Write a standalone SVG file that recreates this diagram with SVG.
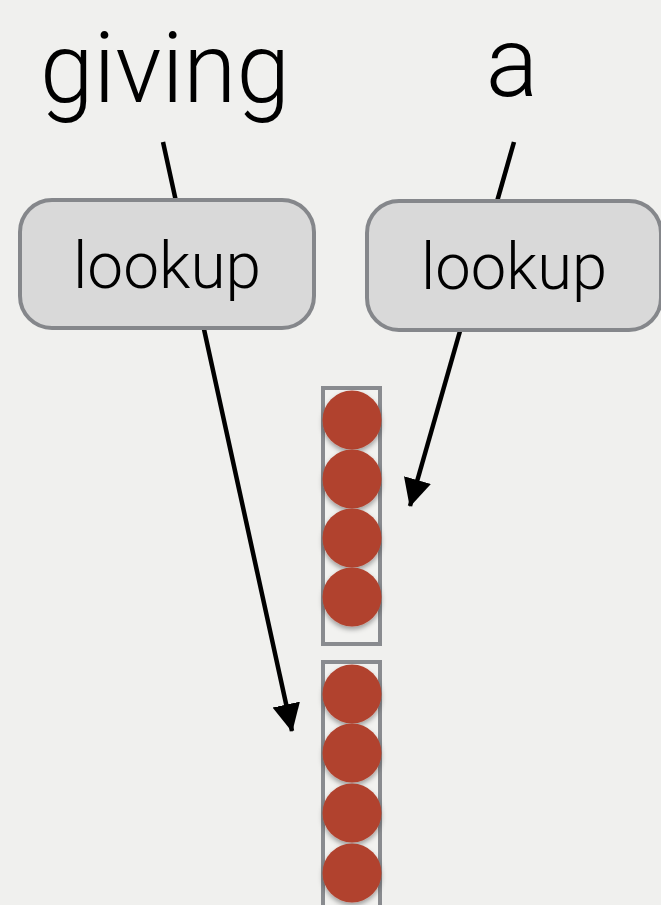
<svg xmlns="http://www.w3.org/2000/svg" width="661" height="905" viewBox="0 0 661 905">
  <style>
    .word { font-family: Roboto, "Liberation Sans", sans-serif; font-weight: 300; font-size: 98px; fill: #000; }
    .label { font-family: Roboto, "Liberation Sans", sans-serif; font-weight: 300; font-size: 64px; fill: #000; }
    .box { fill: #d9d9d9; stroke: #85878b; stroke-width: 4; }
    .col { fill: #f2f2f0; stroke: #898b8f; stroke-width: 4; }
    .cell { fill: #b1432f; filter: url(#shadow); }
    .edge { stroke: #000; stroke-width: 4.5; fill: none; marker-end: url(#arrow); }
  </style>
  <defs>
    <marker id="arrow" markerUnits="userSpaceOnUse" markerWidth="32" markerHeight="32" refX="27" refY="14" orient="auto">
      <path d="M0,0 L28,14 L0,28 Z" fill="#000"/>
    </marker>
    <filter id="shadow" x="-30%" y="-30%" width="160%" height="170%">
      <feDropShadow dx="0" dy="3" stdDeviation="2.5" flood-color="#000" flood-opacity="0.35"/>
    </filter>
  </defs>

  <rect x="0" y="0" width="661" height="905" fill="#f0f0ee"/>

  <!-- connectors: drawn first so the lookup boxes sit on top of them -->
  <g id="connectors">
    <line class="edge" x1="163" y1="142" x2="292" y2="731"/>
    <line class="edge" x1="514" y1="142" x2="410" y2="506"/>
  </g>

  <g id="word-giving">
    <text class="word" x="165" y="102" text-anchor="middle" textLength="250" lengthAdjust="spacingAndGlyphs">giving</text>
  </g>
  <g id="word-a">
    <text class="word" x="512" y="96" text-anchor="middle">a</text>
  </g>

  <g id="lookup-left">
    <rect class="box" x="20" y="200" width="294" height="128" rx="32"/>
    <text class="label" x="167" y="288" text-anchor="middle" textLength="188" lengthAdjust="spacingAndGlyphs">lookup</text>
  </g>
  <g id="lookup-right">
    <rect class="box" x="367" y="201" width="294" height="129" rx="32"/>
    <text class="label" x="514" y="289" text-anchor="middle" textLength="186" lengthAdjust="spacingAndGlyphs">lookup</text>
  </g>

  <g id="vector-top">
    <rect class="col" x="323" y="388" width="57" height="256"/>
    <circle class="cell" cx="352" cy="420" r="29.5"/>
    <circle class="cell" cx="352" cy="479" r="29.5"/>
    <circle class="cell" cx="352" cy="538" r="29.5"/>
    <circle class="cell" cx="352" cy="597" r="29.5"/>
  </g>
  <g id="vector-bottom">
    <rect class="col" x="323" y="662" width="57" height="260"/>
    <circle class="cell" cx="352" cy="694" r="29.5"/>
    <circle class="cell" cx="352" cy="753" r="29.5"/>
    <circle class="cell" cx="352" cy="813" r="29.5"/>
    <circle class="cell" cx="352" cy="873" r="29.5"/>
  </g>
</svg>
